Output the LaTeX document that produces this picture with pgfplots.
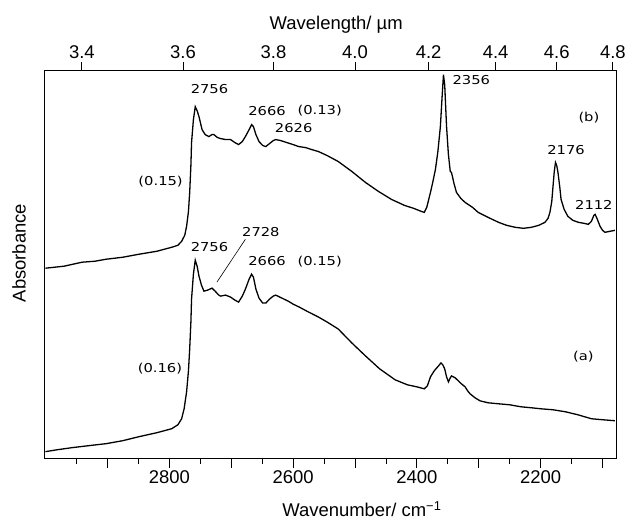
\documentclass[border=0pt]{standalone}
\usepackage{pgfplots}
\pgfplotsset{compat=1.18}
\usepackage{fontspec}
\setmainfont{Liberation Sans}
\newfontfamily\annfont{DejaVu Sans}
\newcommand{\ann}[1]{\scalebox{1.2}[1]{\annfont\fontsize{12.3}{14}\selectfont #1}}

\pgfplotstableread{
nu y
3000 191
2970 193
2941 197
2920 198
2902 200
2875 202
2849 205
2820 208
2796 212
2786 214
2780 218
2775 224
2772 233
2769 248
2767 267
2765 295
2764 317
2761 340
2758 353
2755 349
2752 343
2747 330
2742 325
2736 323
2731 325
2728 325
2722 322
2717 321
2709 320
2701 320
2694 317
2688 315
2682 318
2677 323
2671 330
2667 335
2664 333
2660 325
2655 318
2649 314
2644 313
2638 316
2632 319
2628 320
2620 319
2610 317
2600 315
2591 313
2580 312
2570 310
2559 308
2545 304
2527 298
2505 288
2483 277
2462 268
2441 260
2420 254
2405 251
2393 248
2388 247
2384 252
2378 267
2374 278
2370 290
2366 308
2362 333
2359 365
2357 385
2355 375
2352 333
2349 305
2346 288
2344 287
2340 276
2336 267
2329 261
2322 257
2310 252
2301 247
2285 242
2268 237
2255 234
2241 232
2228 231
2215 232
2203 234
2193 237
2188 241
2185 247
2182 258
2180 273
2178 288
2176 297
2174 294
2172 287
2169 272
2167 260
2162 250
2156 243
2148 239
2139 237
2130 236
2123 235
2118 238
2114 244
2112 245
2109 241
2104 233
2100 229
2096 227
2088 228
2080 229
}\curveb

\pgfplotstableread{
nu y
3000 7
2980 9
2957 11
2930 13
2902 15
2875 18
2849 22
2820 26
2796 30
2786 34
2780 40
2776 50
2772 67
2769 88
2767 110
2765 138
2764 160
2761 185
2758 199
2755 193
2752 183
2748 174
2744 168
2738 169
2731 171
2726 168
2720 164
2717 163
2709 164
2701 162
2694 159
2688 157
2682 163
2677 170
2671 180
2667 185
2664 182
2660 170
2655 161
2649 156
2644 156
2638 160
2632 163
2628 164
2618 161
2608 158
2600 155
2590 152
2578 148
2559 142
2545 137
2527 130
2505 116
2483 103
2460 90
2435 79
2415 74
2400 72
2388 70
2383 73
2378 82
2372 88
2365 93
2361 96
2358 94
2355 90
2352 82
2349 77
2346 81
2344 83
2338 81
2333 78
2328 75
2322 72
2318 68
2314 65
2306 61
2298 58
2285 56
2268 55
2250 54
2232 52
2215 51
2200 50
2180 49
2160 47
2140 44
2118 40
2100 39
2080 38
}\curvea

\begin{document}
\begin{tikzpicture}
\begin{axis}[name=ax, scale only axis, width=573pt, height=389pt,
  xmin=2078, xmax=3001, ymin=0, ymax=389, x dir=reverse,
  axis line style={line width=0.8pt},
  ytick=\empty,
  xtick={2100,2200,...,2900}, xticklabels={,2200,,2400,,2600,,2800,},
  minor xtick={2150,2250,...,2950},
  xtick pos=left, tick align=outside,
  major tick length=9pt, minor tick length=5pt,
  every tick/.style={line width=0.8pt, black},
  /pgf/number format/assume math mode=true,
  ticklabel style={font=\fontsize{18.5}{20}\selectfont},
  label style={font=\fontsize{18.5}{20}\selectfont},
  xlabel={Wavenumber/ cm\textsuperscript{−1}},
  xlabel style={at={(axis description cs:0.555,0)}, anchor=base, yshift=-58pt},
  ylabel={Absorbance},
  ylabel style={at={(axis description cs:0,0.53)}, anchor=center, yshift=26pt},
  clip=false,
]
\addplot[black, line width=1.3pt] table[x=nu, y=y] {\curveb};
\addplot[black, line width=1.3pt] table[x=nu, y=y] {\curvea};

\node at (axis cs:2735,371) {\ann{2756}};
\node at (axis cs:2642,349) {\ann{2666}};
\node at (axis cs:2557,349) {\ann{(0.13)}};
\node at (axis cs:2599,332) {\ann{2626}};
\node at (axis cs:2814,278) {\ann{(0.15)}};
\node at (axis cs:2312,380) {\ann{2356}};
\node at (axis cs:2122,342) {\ann{(b)}};
\node at (axis cs:2159,310) {\ann{2176}};
\node at (axis cs:2114,254) {\ann{2112}};

\node at (axis cs:2735,212) {\ann{2756}};
\node at (axis cs:2652,227) {\ann{2728}};
\draw[line width=0.6pt] (axis cs:2677,220) -- (axis cs:2723,177);
\node at (axis cs:2642,198) {\ann{2666}};
\node at (axis cs:2557,198) {\ann{(0.15)}};
\node at (axis cs:2815,90) {\ann{(0.16)}};
\node at (axis cs:2131,102) {\ann{(a)}};
\end{axis}

\begin{axis}[scale only axis, width=573pt, height=389pt,
  xmin=2078, xmax=3001, ymin=0, ymax=389, x dir=reverse,
  axis x line*=top, axis y line=none,
  axis line style={line width=0.8pt},
  xtick={2941.18,2777.78,2631.58,2500,2380.95,2272.73,2173.91,2083.33},
  xticklabels={3.4,3.6,3.8,4.0,4.2,4.4,4.6,4.8},
  tick align=outside, major tick length=9pt,
  every tick/.style={line width=0.8pt, black},
  ticklabel style={font=\fontsize{18.5}{20}\selectfont},
  label style={font=\fontsize{18.5}{20}\selectfont},
  xlabel={Wavelength/ µm},
  xlabel style={at={(axis description cs:0.51,1)}, anchor=base, yshift=41pt},
]
\end{axis}

\path ([xshift=-45pt,yshift=-64pt]ax.south west) rectangle ([xshift=11pt,yshift=71pt]ax.north east);
\end{tikzpicture}
\end{document}
